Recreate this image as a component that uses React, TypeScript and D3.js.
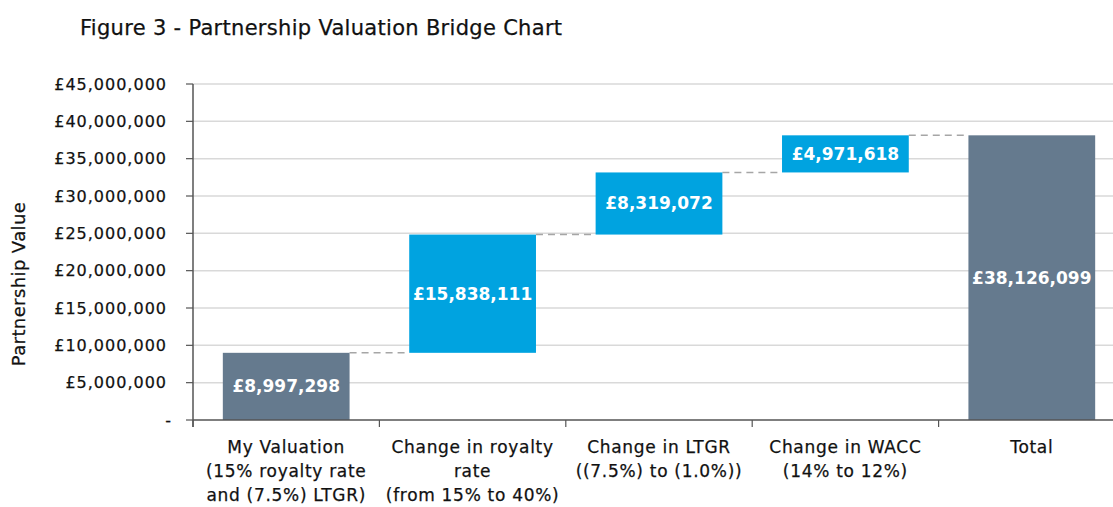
import React from "react";
import * as d3 from "d3";

const categories = [
  ["My Valuation", "(15% royalty rate", "and (7.5%) LTGR)"],
  ["Change in royalty", "rate", "(from 15% to 40%)"],
  ["Change in LTGR", "((7.5%) to (1.0%))"],
  ["Change in WACC", "(14% to 12%)"],
  ["Total"],
];
const values = [8997298, 15838111, 8319072, 4971618, 38126099];
const kinds = ["total", "delta", "delta", "delta", "total"];
const yTicks = [0, 5e6, 10e6, 15e6, 20e6, 25e6, 30e6, 35e6, 40e6, 45e6];

const W = 1113;
const H = 507;
const left = 193;
const right = 1125;
const top = 84;
const bottom = 420;

export default function App() {
  const x = d3.scaleBand<number>().domain(d3.range(categories.length)).range([left, right]).paddingInner(0.32).paddingOuter(0.16);
  const y = d3.scaleLinear().domain([0, 45e6]).range([bottom, top]);
  const fmt = (v: number) => "£" + d3.format(",")(v);
  const tickFmt = (v: number) => (v === 0 ? "-" : "£" + d3.format(",")(v));

  let cum = 0;
  const bars = values.map((v, i) => {
    let y0: number, y1: number;
    if (kinds[i] === "total") {
      y0 = 0;
      y1 = v;
      cum = v;
    } else {
      y0 = cum;
      y1 = cum + v;
      cum = y1;
    }
    return { i, v, y0, y1, kind: kinds[i] };
  });
  const bandStep = (right - left) / categories.length;
  const boundaries = d3.range(categories.length + 1).map((k) => left + k * bandStep);
  const txt = { fill: "#111", stroke: "#111", strokeWidth: 0.25 };

  return (
    <svg width={W} height={H} style={{ position: "absolute", left: 0, top: 0, background: "#fff" }} fontFamily="'DejaVu Sans', Tahoma, sans-serif">
      <text x={80} y={35} fontSize={21} letterSpacing={0.3} {...txt}>Figure 3 - Partnership Valuation Bridge Chart</text>
      {yTicks.map((t) => (
        <g key={t}>
          {t > 0 && <line x1={left} x2={W} y1={y(t)} y2={y(t)} stroke="#d9d9d9" strokeWidth={1.5} />}
          <line x1={left - 7} x2={left} y1={y(t)} y2={y(t)} stroke="#555" strokeWidth={1.2} />
          <text x={t === 0 ? 172 : 167} y={y(t)} dy="0.35em" textAnchor="end" fontSize={16} letterSpacing={1} {...txt}>
            {tickFmt(t)}
          </text>
        </g>
      ))}
      <text transform={`translate(25,${284}) rotate(-90)`} textAnchor="middle" fontSize={18} letterSpacing={0.4} {...txt}>Partnership Value</text>
      {bars.slice(0, -1).map((b, k) => {
        const nx = bars[k + 1];
        return (
          <line key={"c" + k} x1={x(b.i)! + x.bandwidth()} x2={x(nx.i)!} y1={y(b.y1)} y2={y(b.y1)} stroke="#a6a6a6" strokeWidth={1.5} strokeDasharray="7,5" />
        );
      })}
      {bars.map((b) => (
        <g key={b.i}>
          <rect x={x(b.i)} width={x.bandwidth()} y={y(b.y1)} height={y(b.y0) - y(b.y1)} fill={b.kind === "total" ? "#657a8e" : "#00a3e0"} />
          <text x={x(b.i)! + x.bandwidth() / 2} y={(y(b.y0) + y(b.y1)) / 2} dy="0.35em" textAnchor="middle" fontSize={17} fontWeight="bold" fill="#fff">
            {fmt(b.v)}
          </text>
        </g>
      ))}
      <line x1={left} x2={left} y1={top} y2={bottom + 7} stroke="#555" strokeWidth={1.5} />
      <line x1={left} x2={W} y1={bottom} y2={bottom} stroke="#555" strokeWidth={1.5} />
      {boundaries.map((bx, k) => (
        <line key={"t" + k} x1={bx} x2={bx} y1={bottom} y2={bottom + 7} stroke="#555" strokeWidth={1.2} />
      ))}
      {categories.map((lines, i) => (
        <text key={"l" + i} x={left + (i + 0.5) * bandStep} y={453} textAnchor="middle" fontSize={17} letterSpacing={0.7} {...txt}>
          {lines.map((ln, j) => (
            <tspan key={j} x={left + (i + 0.5) * bandStep} dy={j === 0 ? 0 : 24}>{ln}</tspan>
          ))}
        </text>
      ))}
    </svg>
  );
}
